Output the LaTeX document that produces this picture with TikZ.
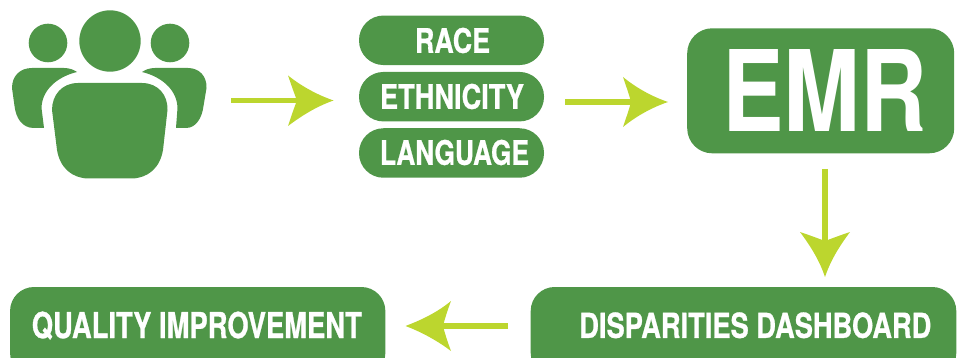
\documentclass[tikz,border=0pt]{standalone}
\usepackage{fontspec}
\setmainfont[BoldFeatures={FakeBold=0.9}]{TeX Gyre Heros}
\newfontfamily\plainheros[BoldFont={* Bold}]{TeX Gyre Heros}
\definecolor{dgreen}{HTML}{4F9648}
\definecolor{lime}{HTML}{BCD62E}
\newcommand{\fittext}[3]{\resizebox{#1pt}{#2pt}{\bfseries #3}}
\newcommand{\fitplain}[3]{\resizebox{#1pt}{#2pt}{\plainheros\bfseries #3}}
\tikzset{
  x=1pt,y=-1pt,
  box/.style={fill=dgreen,inner sep=0pt,text=white,anchor=center},
  lbl/.style={inner sep=0pt,text=white,anchor=center},
  shaft/.style={draw=lime,line width=5.2pt,line cap=butt},
  head/.style={fill=lime,draw=none},
  person/.style={fill=dgreen,draw=none},
}
\begin{document}
\begin{tikzpicture}
\useasboundingbox (0,0) rectangle (963,358);
% people
\fill[person] (48,43) circle (19.3);
\fill[person] (170,43) circle (19.3);
\fill[person] (110,41) circle (30.7);
\fill[person] (78,83) -- (142,83)
  .. controls (158,83) and (168,95) .. (167.5,110)
  -- (163,150) .. controls (160,168) and (148,178) .. (132,178.5)
  -- (88,178.5) .. controls (72,178) and (60,168) .. (57,150)
  -- (52,110) .. controls (52,95) and (62,83) .. (78,83) -- cycle;
\fill[person] (77,72) .. controls (60,76) and (42,88) .. (41.5,108)
  -- (44,128) -- (34,128) .. controls (22,128) and (16,118) .. (14.5,106)
  -- (12,88) .. controls (12,76) and (20,68) .. (32,68) -- (64,68)
  .. controls (70,68) and (74,70) .. (77,72) -- cycle;
\fill[person] (142,72) .. controls (159,76) and (177,88) .. (177.5,108)
  -- (176,128) -- (186,128) .. controls (196,128) and (202,118) .. (203.5,106)
  -- (206.5,88) .. controls (207,76) and (199,68) .. (188,68) -- (155,68)
  .. controls (149,68) and (145,70) .. (142,72) -- cycle;
% pills
\node[box,rounded corners=24.5pt,minimum width=185pt,minimum height=49.5pt] (race) at (451.5,40.3) {};
\node[lbl] (tr) at (452.5,40.5) {\fittext{75}{25}{RACE}};
\node[box,rounded corners=24.5pt,minimum width=185pt,minimum height=49.5pt] (eth) at (451.5,96.7) {};
\node[lbl] (te) at (452,96.5) {\fittext{144}{25}{ETHNICITY}};
\node[box,rounded corners=24.5pt,minimum width=185pt,minimum height=49.5pt] (lang) at (451.5,153) {};
\node[lbl] (tl) at (454.5,152.5) {\fittext{149}{25}{LANGUAGE}};
% EMR
\node[box,rounded corners=25pt,minimum width=267pt,minimum height=125pt] (emr) at (820.7,90.8) {};
\node[lbl] (tm) at (824.7,90.5) {\fitplain{205}{82}{EMR}};
% bottom
\node[box,rounded corners=24pt,minimum width=375.3pt,minimum height=90pt] (qi) at (197.7,332) {};
\node[lbl] (tq) at (196.8,325.6) {\fittext{330}{26.5}{QUALITY IMPROVEMENT}};
\node[box,rounded corners=24pt,minimum width=425.6pt,minimum height=90pt] (dd) at (743.5,332) {};
\node[lbl] (td) at (755.3,325.3) {\fittext{352}{25.5}{DISPARITIES DASHBOARD}};
% arrows
\coordinate (a1s) at (231,100.5); \coordinate (a1e) at (300,100.5);
\draw[shaft] (a1s) -- (a1e);
\fill[head] (333.5,100.5) .. controls (315,107) and (300,117) .. (288,126) .. controls (291,117) and (294,108) .. (297,100.5)
  .. controls (294,93) and (291,84) .. (288,75.5) .. controls (300,85) and (315,94) .. (333.5,100.5) -- cycle;
\coordinate (a2s) at (565,102); \coordinate (a2e) at (634,102);
\draw[shaft] (a2s) -- (a2e);
\fill[head] (668,102) .. controls (649,108.5) and (634,118) .. (623,127) .. controls (626,118) and (629,110) .. (631,102)
  .. controls (629,94) and (626,86) .. (623,77) .. controls (634,86) and (649,95.5) .. (668,102) -- cycle;
\coordinate (a3s) at (825,169); \coordinate (a3e) at (825,246);
\draw[shaft] (a3s) -- (a3e);
\fill[head] (825,277) .. controls (820,262) and (812,248) .. (800,232) .. controls (809,235) and (817,238) .. (825,241)
  .. controls (833,238) and (841,235) .. (850,232) .. controls (838,248) and (830,262) .. (825,277) -- cycle;
\coordinate (a4s) at (508,326); \coordinate (a4e) at (440,326);
\draw[shaft] (a4s) -- (a4e);
\fill[head] (405.5,326) .. controls (424,319) and (439,311) .. (451,301) .. controls (448,309) and (445,318) .. (443,326)
  .. controls (445,334) and (448,343) .. (451,351) .. controls (439,342) and (424,333) .. (405.5,326) -- cycle;
\end{tikzpicture}
\end{document}
